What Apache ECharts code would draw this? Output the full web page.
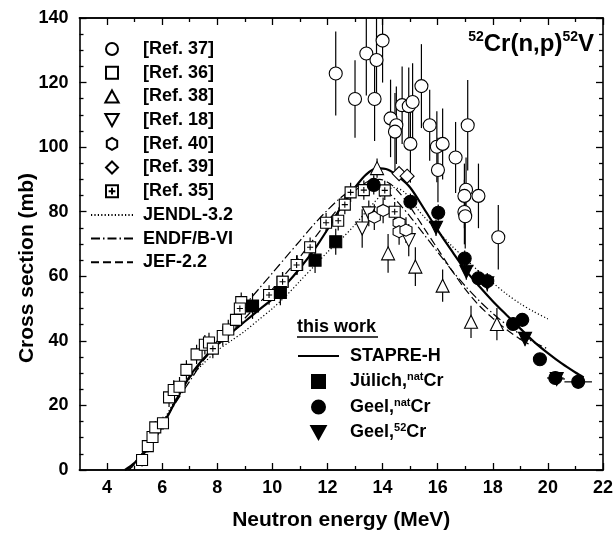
<!DOCTYPE html>
<html><head><meta charset="utf-8">
<script src="https://cdn.jsdelivr.net/npm/echarts@6/dist/echarts.min.js"></script>
<style>html,body{margin:0;padding:0;background:#fff}#c{width:616px;height:540px}</style>
</head><body><div id="c"></div>
<script>
// ---- tick values ----
const xMajorTicks = [4, 6, 8, 10, 12, 14, 16, 18, 20, 22];
const xMinorTicks = [5, 7, 9, 11, 13, 15, 17, 19, 21];
const yTicks = [0, 20, 40, 60, 80, 100, 120, 140];

// ---- experimental data: [energy MeV, sigma mb, dSigma, dE] ----
const ref37 = [[12.3,122.8,13],[13.0,114.9,12],[13.41,129.0,13],[13.71,114.9,13],[13.78,127.0,13],[14.0,133.0,13],
  [14.29,108.9,12],[14.5,106.8,12],[14.45,104.8,12],[14.71,113,12],[14.95,112.7,12],[15.09,114,12],[15.41,118.9,13],
  [15.71,106.8,11],[15.01,101,12],[15.97,100.1,11],[16.18,101,11],[16.01,92.9,10],[16.65,96.8,11],[17.09,106.8,14],
  [17.03,86.8,10],[16.97,84.9,10],[16.97,79.9,10],[17.0,78.6,10],[17.48,84.9,10],[18.2,72.1,10]];
const ref36 = [[5.27,3.1,2],[5.48,7.4,2],[5.65,10.2,2],[5.75,13.2,2],[6.03,14.5,2],[6.25,22.5,3],[6.42,24.8,3],
  [6.63,25.8,3],[6.88,31,3],[7.25,35.8,3],[7.55,38.8,3],[7.7,39.5,3],[8.2,41.5,3],[8.4,43.5,3],[8.68,46.5,3],
  [8.87,52,3],[10.37,58.3,3],[10.9,63.5,3]];
const ref38 = [[13.8,93.5,3],[14.2,67.1,6],[15.19,63,6],[16.18,57.1,5],[17.21,45.9,5],[18.15,45.2,5]];
const ref18 = [[13.26,74.8,6],[13.5,79.5,4],[14.95,71.2,5]];
const ref40 = [[13.7,78.3,4],[14.02,80.4,4],[14.6,76.6,4],[14.6,73.8,4],[14.85,74.3,4]];
const ref39 = [[14.6,91.8,2],[14.89,91.0,2]];
const ref35 = [[7.84,37.6,3],[8.82,50,3],[9.88,54.2,3],[10.37,58.3,3],[10.88,63.5,3],[11.37,69,3],[11.95,76.6,3],
  [12.39,77.2,3],[12.63,82.2,3],[12.84,86,3],[13.32,86.7,3],[14.08,86.6,3],[14.44,80,3]];
const julichNat = [[9.28,50.8,4],[10.29,55,4],[11.55,65,4],[12.3,70.7,4]];
const geelNat = [[13.68,88.3,3,0.15],[15.01,83.1,2.5,0.1],[16.02,79.7,2.5,0.1],[16.98,65.5,2.5,0.1],[17.48,59.4,2.5,0.15],
  [17.8,58.5,2.5,0.15],[18.74,45.2,2,0.2],[19.07,46.5,2,0.2],[19.71,34.3,1.5,0.25],[20.27,28.5,1.5,0.3],[21.1,27.3,1.5,0.5]];
const geel52 = [[15.94,75,2.5,0.1],[17.04,61.4,2.5,0.1],[17.8,57.8,2.5,0.15],[19.17,40.6,2,0.2],[20.32,28.2,1.5,0.3]];

// ---- evaluated / calculated curves ----
const stapre = [[4.65,0],[5.0,2.2],[5.5,6.8],[6.0,13.5],[6.5,21.5],[7.0,29],[7.5,34.5],[8.0,38.8],[8.5,42.5],[9.0,46],
  [9.5,49.5],[10.0,53],[10.5,57.5],[11.0,62.5],[11.5,68],[12.0,74.5],[12.5,81.5],[13.0,87.5],[13.4,91.5],[13.8,93.5],
  [14.2,93],[14.6,90.7],[15.0,87.5],[15.5,81],[16.0,74.3],[16.5,68],[17.0,62],[17.5,57],[18.0,52.3],[18.5,48],
  [19.0,43.8],[19.5,39.7],[20.0,36.2],[20.5,33],[21.0,30.2],[21.3,28.7]];
const jendl = [[4.8,0],[5.5,6.5],[6.0,14.5],[6.5,22],[7.0,28.5],[7.5,33],[8.0,37],[8.5,40],[9.0,43],[9.5,46.5],
  [10.0,50],[10.5,54],[11.0,58.5],[11.5,63],[12.0,67.5],[12.5,71.5],[13.0,76],[13.5,81],[14.0,85.5],[14.4,87.5],
  [14.8,86],[15.25,81],[15.5,78.5],[16.0,74],[16.5,69.5],[17.0,65.5],[17.5,61.5],[18.0,58],[18.5,54.5],[19.0,51.5],
  [19.5,49],[20.0,46.8]];
const endf = [[4.75,0],[5.5,7.5],[6.0,14],[6.5,21],[7.0,27.5],[7.5,34],[8.0,40],[8.5,45.5],[9.0,51],[9.5,56],
  [10.0,61],[10.5,66],[11.0,71],[11.5,76],[12.0,80.5],[12.5,84.5],[13.0,87.5],[13.4,88.5],[13.8,88],[14.2,86],
  [14.6,82.5],[15.0,78.5],[15.5,73],[16.0,67.5],[16.5,62],[17.0,57],[17.5,52.5],[18.0,48.5],[18.5,45],[19.0,42],
  [19.5,39.5],[20.0,37.5]];
const jef = [[4.8,0],[5.5,7],[6.0,14],[6.5,21.5],[7.0,28.5],[7.5,34],[8.0,38.5],[8.5,42.5],[9.0,47],[9.5,51.5],
  [10.0,56],[10.5,61],[11.0,66],[11.5,71.5],[12.0,77],[12.5,82],[13.0,86.5],[13.5,89.5],[13.9,90],[14.3,88.5],
  [14.7,85],[15.0,81.5],[15.5,75],[16.0,68.5],[16.5,62],[17.0,56],[17.5,51],[18.0,47],[18.5,43.5],[19.0,40.5],[19.3,39]];

const FONT = '"Liberation Sans", Arial, Helvetica, sans-serif';
const BLACK = '#000';

const chart = echarts.init(document.getElementById('c'), null, {renderer: 'canvas'});

function errBars(data, z) {
  return {
    type: 'custom', data: data, z: z, clip: true, silent: true,
    renderItem: function (params, api) {
      const x = api.value(0), y = api.value(1), ey = api.value(2) || 0, ex = api.value(3) || 0;
      const children = [];
      if (ey) {
        const a = api.coord([x, y - ey]), b = api.coord([x, y + ey]);
        children.push({type: 'line', shape: {x1: a[0], y1: a[1], x2: b[0], y2: b[1]}, style: {stroke: BLACK, lineWidth: 1.2}});
      }
      if (ex) {
        const a = api.coord([x - ex, y]), b = api.coord([x + ex, y]);
        children.push({type: 'line', shape: {x1: a[0], y1: a[1], x2: b[0], y2: b[1]}, style: {stroke: BLACK, lineWidth: 1.2}});
      }
      return {type: 'group', children: children};
    }
  };
}
function scatter(name, data, symbol, size, filled) {
  return {
    name: name, type: 'scatter', data: data, symbol: symbol, symbolSize: size, z: 5,
    itemStyle: {color: filled ? BLACK : '#fff', borderColor: BLACK, borderWidth: 1.1, opacity: 1},
    emphasis: {disabled: true}
  };
}
function curve(name, data, type, width) {
  return {
    name: name, type: 'line', data: data, symbol: 'none', showSymbol: false, smooth: 0.3, z: 3,
    color: BLACK, itemStyle: {opacity: 0}, lineStyle: {color: BLACK, width: width, type: type}, emphasis: {disabled: true}
  };
}

const SYM_CIRCLE = 'circle';
const SYM_RECT = 'path://M0,0L10,0L10,10L0,10Z';
const SYM_UP = 'path://M5,0L10,9L0,9Z';
const SYM_DIAMOND = 'path://M5,0L10,5L5,10L0,5Z';
const SYM_HEX = 'path://M5,0L9.33,2.5L9.33,7.5L5,10L0.67,7.5L0.67,2.5Z';
const SYM_DOWN = 'path://M0,0L10,0L5,9Z';
const SYM_PLUSSQ = 'path://M0,0L10,0L10,10L0,10Z M5,2.2L5,7.8 M2.2,5L7.8,5';

const xBase = {type: 'value', min: 3, max: 22, splitLine: {show: false},
  axisLine: {show: true, onZero: false, lineStyle: {color: BLACK, width: 1.6}}};
const yBase = {type: 'value', min: 0, max: 140, interval: 20, splitLine: {show: false},
  axisLine: {show: true, onZero: false, lineStyle: {color: BLACK, width: 1.6}}};
const labelStyle = {color: BLACK, fontFamily: FONT, fontWeight: 'bold', fontSize: 18};
const lineLegendItem = function (n) { return {name: n, itemStyle: {opacity: 0}}; };

const option = {
  animation: false,
  backgroundColor: '#fff',
  grid: {left: 79.5, right: 11, top: 18, bottom: 70},
  xAxis: [
    Object.assign({}, xBase, {position: 'bottom',
      axisTick: {inside: true, length: 7, customValues: xMajorTicks, lineStyle: {color: BLACK, width: 1.3}},
      axisLabel: Object.assign({customValues: xMajorTicks, margin: 9}, labelStyle),
      name: 'Neutron energy (MeV)', nameLocation: 'middle', nameGap: 40,
      nameTextStyle: {color: BLACK, fontFamily: FONT, fontWeight: 'bold', fontSize: 21}}),
    Object.assign({}, xBase, {position: 'bottom',
      axisTick: {inside: true, length: 4, customValues: xMinorTicks, lineStyle: {color: BLACK, width: 1.3}},
      axisLabel: {show: false}}),
    Object.assign({}, xBase, {position: 'top',
      axisTick: {inside: true, length: 7, customValues: xMajorTicks, lineStyle: {color: BLACK, width: 1.3}},
      axisLabel: {show: false}}),
    Object.assign({}, xBase, {position: 'top',
      axisTick: {inside: true, length: 4, customValues: xMinorTicks, lineStyle: {color: BLACK, width: 1.3}},
      axisLabel: {show: false}})
  ],
  yAxis: [
    Object.assign({}, yBase, {position: 'left',
      axisTick: {inside: true, length: 7, lineStyle: {color: BLACK, width: 1.3}},
      minorTick: {show: true, splitNumber: 4, length: 4, lineStyle: {color: BLACK, width: 1.3}},
      axisLabel: Object.assign({margin: 11, formatter: function (v) { return yTicks.indexOf(v) >= 0 ? String(v) : ''; }}, labelStyle)}),
    Object.assign({}, yBase, {position: 'right',
      axisTick: {inside: true, length: 7, lineStyle: {color: BLACK, width: 1.3}},
      minorTick: {show: true, splitNumber: 4, length: 4, lineStyle: {color: BLACK, width: 1.3}},
      axisLabel: {show: false}})
  ],
  legend: [
    {
      data: ['[Ref. 37]', '[Ref. 36]', '[Ref. 38]', '[Ref. 18]', '[Ref. 40]', '[Ref. 39]', '[Ref. 35]',
        lineLegendItem('JENDL-3.2'), lineLegendItem('ENDF/B-VI'), lineLegendItem('JEF-2.2')],
      orient: 'vertical', left: 90, top: 40, padding: 0, itemWidth: 42, itemHeight: 12, itemGap: 5.7,
      selectedMode: false,
      textStyle: {color: BLACK, fontFamily: FONT, fontWeight: 'bold', fontSize: 18, padding: [0, 0, 0, 5]}
    },
    {
      data: [lineLegendItem('STAPRE-H'), 'Jülich,natCr', 'Geel,natCr', 'Geel,52Cr'],
      orient: 'vertical', left: 297, top: 347, padding: 0, itemWidth: 41, itemHeight: 13, itemGap: 6.5,
      selectedMode: false,
      formatter: function (n) {
        if (n === 'Jülich,natCr') return '{b|Jülich,}{s|nat}{b|Cr}';
        if (n === 'Geel,natCr') return '{b|Geel,}{s|nat}{b|Cr}';
        if (n === 'Geel,52Cr') return '{b|Geel,}{s|52}{b|Cr}';
        return '{b|' + n + '}';
      },
      textStyle: {color: BLACK, fontFamily: FONT, fontWeight: 'bold', fontSize: 18, padding: [0, 0, 0, 6],
        rich: {
          b: {color: BLACK, fontFamily: FONT, fontWeight: 'bold', fontSize: 18, lineHeight: 20},
          s: {color: BLACK, fontFamily: FONT, fontWeight: 'bold', fontSize: 11, lineHeight: 20, verticalAlign: 'top', padding: [0, 0, 8, 0]}
        }}
    }
  ],
  graphic: [
    {type: 'text', right: 22, top: 30,
      style: {text: '{s|52}{b|Cr(n,p)}{s|52}{b|V}', fill: BLACK,
        rich: {
          b: {fontFamily: FONT, fontWeight: 'bold', fontSize: 24, lineHeight: 28, fill: BLACK},
          s: {fontFamily: FONT, fontWeight: 'bold', fontSize: 14, lineHeight: 28, verticalAlign: 'top', padding: [0, 0, 11, 0], fill: BLACK}
        }}},
    {type: 'text', x: 27, y: 268, rotation: Math.PI / 2,
      style: {text: 'Cross section (mb)', fill: BLACK, font: 'bold 21px ' + FONT, align: 'center', verticalAlign: 'middle'}},
    {type: 'text', left: 297, top: 318,
      style: {text: 'this work', fill: BLACK, font: 'bold 18px ' + FONT}},
    {type: 'line', shape: {x1: 297, y1: 337, x2: 378, y2: 337}, style: {stroke: BLACK, lineWidth: 1.4}}
  ],
  series: [
    curve('JENDL-3.2', jendl, [1.2, 2.2], 1.2),
    curve('ENDF/B-VI', endf, [9, 3, 1.5, 3], 1.2),
    curve('JEF-2.2', jef, [8, 4], 1.2),
    curve('STAPRE-H', stapre, 'solid', 2.2),
    errBars(ref37, 4), errBars(ref36, 4), errBars(ref38, 4), errBars(ref18, 4), errBars(ref40, 4),
    errBars(ref39, 4), errBars(ref35, 4), errBars(julichNat, 4), errBars(geelNat, 4), errBars(geel52, 4),
    scatter('[Ref. 37]', ref37, SYM_CIRCLE, 13, false),
    scatter('[Ref. 36]', ref36, SYM_RECT, 11, false),
    scatter('[Ref. 38]', ref38, SYM_UP, 13, false),
    scatter('[Ref. 18]', ref18, SYM_DOWN, 13, false),
    scatter('[Ref. 40]', ref40, SYM_HEX, 12, false),
    scatter('[Ref. 39]', ref39, SYM_DIAMOND, 14, false),
    scatter('[Ref. 35]', ref35, SYM_PLUSSQ, 11, false),
    scatter('Jülich,natCr', julichNat, SYM_RECT, 12, true),
    scatter('Geel,natCr', geelNat, SYM_CIRCLE, 13, true),
    scatter('Geel,52Cr', geel52, SYM_DOWN, 13, true)
  ]
};
chart.setOption(option);
</script>
</body></html>
